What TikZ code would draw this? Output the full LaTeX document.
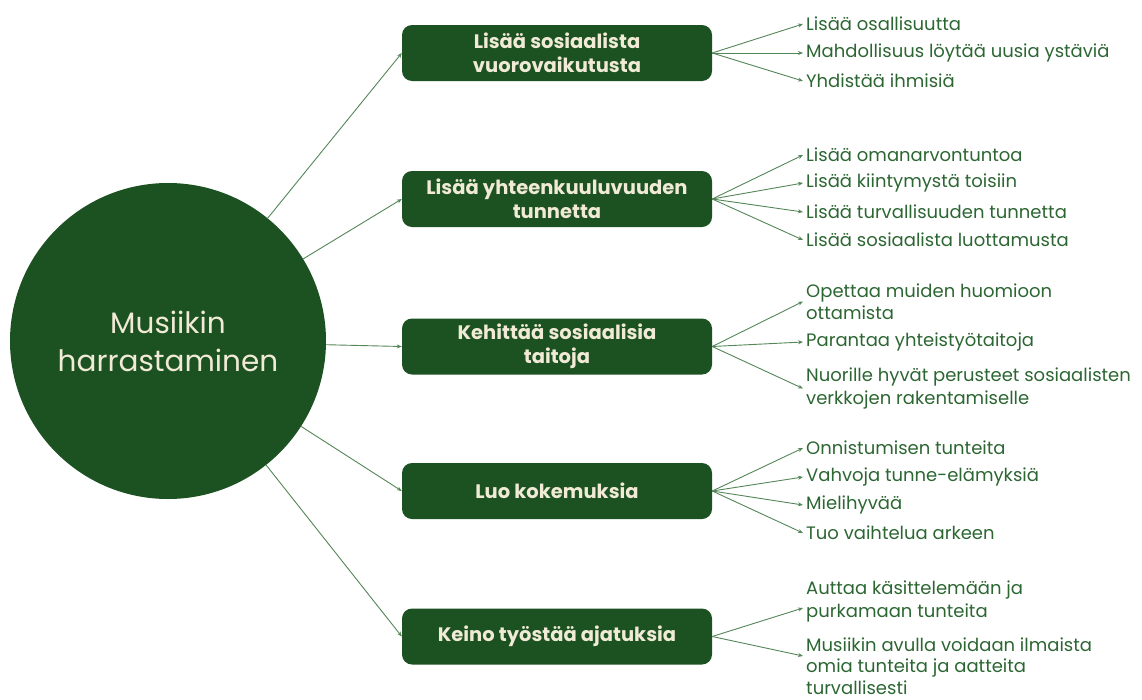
\documentclass[tikz,border=0pt]{standalone}
\usepackage{fontspec}
\setmainfont{Poppins}
\usetikzlibrary{arrows.meta,calc}
\definecolor{dkgreen}{RGB}{28,81,33}
\definecolor{cream}{RGB}{240,234,214}
\definecolor{leafgreen}{RGB}{44,102,50}
\definecolor{linegreen}{RGB}{84,134,88}
\tikzset{
  hub/.style={circle,fill=dkgreen,minimum size=316pt,inner sep=0pt,text=cream,align=center,font=\fontsize{29.5}{38}\selectfont},
  topic/.style={rectangle,rounded corners=10pt,fill=dkgreen,minimum width=310pt,minimum height=56pt,text=cream,align=center,font=\bfseries\fontsize{19.5}{23.5}\selectfont,inner sep=2pt},
  leaf/.style={anchor=west,text=leafgreen,align=left,inner xsep=3pt,inner ysep=0pt,font=\fontsize{18}{22.5}\selectfont},
  conn/.style={draw=linegreen,line width=0.9pt,-{Stealth[length=5pt,width=4pt]}}
}
\begin{document}
\begin{tikzpicture}[x=1pt,y=-1pt]
\useasboundingbox (0,0) rectangle (1142,699);
\node[hub] (c) at (168,341) {Musiikin\\harrastaminen};
\node[topic] (b1) at (557,53) {Lisää sosiaalista\\vuorovaikutusta};
\node[topic] (b2) at (557,199) {Lisää yhteenkuuluvuuden\\tunnetta};
\node[topic] (b3) at (557,346.5) {Kehittää sosiaalisia\\taitoja};
\node[topic] (b4) at (557,491) {Luo kokemuksia};
\node[topic] (b5) at (557,636.5) {Keino työstää ajatuksia};
\foreach \i in {1,...,5} \draw[conn] (c) -- (b\i.west);
% leaves group 1
\node[leaf] (l11) at (803,24) {Lisää osallisuutta};
\node[leaf] (l12) at (803,53) {Mahdollisuus löytää uusia ystäviä};
\node[leaf] (l13) at (803,81) {Yhdistää ihmisiä};
% group 2
\node[leaf] (l21) at (803,155) {Lisää omanarvontuntoa};
\node[leaf] (l22) at (803,183) {Lisää kiintymystä toisiin};
\node[leaf] (l23) at (803,212) {Lisää turvallisuuden tunnetta};
\node[leaf] (l24) at (803,240) {Lisää sosiaalista luottamusta};
% group 3
\node[leaf] (l31) at (803,301.5) {Opettaa muiden huomioon\\ottamista};
\node[leaf] (l32) at (803,342) {Parantaa yhteistyötaitoja};
\node[leaf] (l33) at (803,388.5) {Nuorille hyvät perusteet sosiaalisten\\verkkojen rakentamiselle};
% group 4
\node[leaf] (l41) at (803,448) {Onnistumisen tunteita};
\node[leaf] (l42) at (803,477) {Vahvoja tunne-elämyksiä};
\node[leaf] (l43) at (803,505) {Mielihyvää};
\node[leaf] (l44) at (803,533) {Tuo vaihtelua arkeen};
% group 5
\node[leaf] (l51) at (803,601.5) {Auttaa käsittelemään ja\\purkamaan tunteita};
\node[leaf,font=\fontsize{18}{21.5}\selectfont] (l52) at (803,666) {Musiikin avulla voidaan ilmaista\\omia tunteita ja aatteita\\turvallisesti};
% connectors
\foreach \j in {1,2,3} \draw[conn] (b1.east) -- (l1\j.west);
\foreach \j in {1,...,4} \draw[conn] (b2.east) -- (l2\j.west);
\foreach \j in {1,2,3} \draw[conn] (b3.east) -- (l3\j.west);
\foreach \j in {1,...,4} \draw[conn] (b4.east) -- (l4\j.west);
\draw[conn] (b5.east) -- ([yshift=-6.5pt]l51.west);
\draw[conn] (b5.east) -- ([yshift=10pt]l52.west);
\end{tikzpicture}
\end{document}
